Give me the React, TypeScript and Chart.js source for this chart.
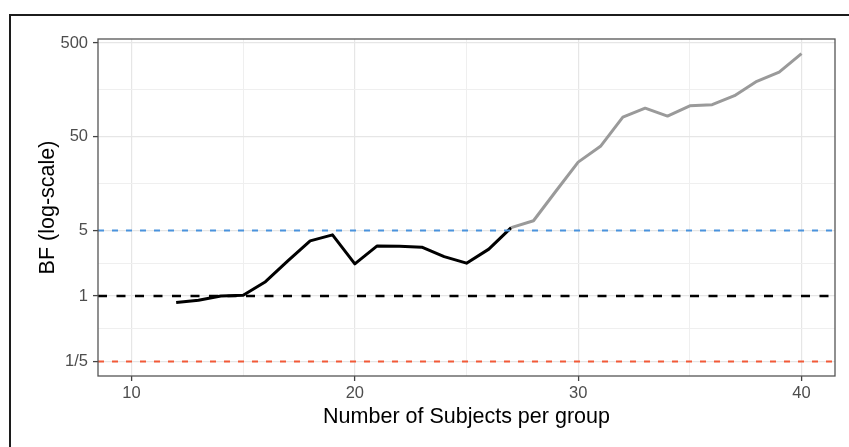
import React, { useEffect, useRef } from "react";
import { Chart, registerables } from "chart.js";

Chart.register(...registerables);

// Bayes factor sequence: the black segment is the observed run,
// the grey segment continues it to the full sample size.
const subjectsObserved = [12, 13, 14, 15, 16, 17, 18, 19, 20, 21, 22, 23, 24, 25, 26, 27];
const bfObserved = [0.85, 0.9, 1.0, 1.02, 1.42, 2.37, 3.87, 4.49, 2.2, 3.42, 3.4, 3.32, 2.63, 2.24, 3.16, 5.37];

const subjectsProjected = [27, 28, 29, 30, 31, 32, 33, 34, 35, 36, 37, 38, 39, 40];
const bfProjected = [5.37, 6.35, 13.1, 26.8, 39.5, 81, 101, 83, 107, 110, 137, 195, 245, 385];

// Evidence thresholds drawn as dashed reference lines
const thresholdValues = [5, 1, 0.2];
const thresholdColors = ["#4a93dd", "#000000", "#f25a38"];
const thresholdWidths = [2, 2.6, 2];
const thresholdDashes = [[6, 8], [9, 9.5], [6, 8]];

const yTickValues = [0.2, 1, 5, 50, 500];
const yTickLabels = ["1/5", "1", "5", "50", "500"];
const xTickValues = [10, 20, 30, 40];

const X_MIN = 8.5;
const X_MAX = 41.5;
const Y_MIN = 0.14;
const Y_MAX = 552;

const FONT = "'Liberation Sans', Arial, Helvetica, sans-serif";

// minor grid positions sit halfway between major breaks (geometric mean on log axis)
const yMinor = yTickValues.slice(1).map((v, i) => Math.sqrt(v * yTickValues[i]));
const xMinor = xTickValues.slice(1).map((v, i) => (v + xTickValues[i]) / 2);
const yAll = [...yTickValues, ...yMinor].sort((a, b) => a - b);
const xAll = [...xTickValues, ...xMinor].sort((a, b) => a - b);

const isYMajor = (v: number) => yTickValues.some((t) => Math.abs(t - v) / t < 1e-6);
const isXMajor = (v: number) => xTickValues.includes(v);

const framePlugin = {
  id: "frame",
  beforeDraw(chart: any) {
    const { ctx, width, height } = chart;
    ctx.save();
    ctx.fillStyle = "#ffffff";
    ctx.fillRect(0, 0, width, height);
    ctx.strokeStyle = "#1c1c1c";
    ctx.lineWidth = 2;
    ctx.strokeRect(10, 15, width + 20, height + 20);
    ctx.restore();
  },
  afterDatasetsDraw(chart: any) {
    const { ctx, chartArea } = chart;
    ctx.save();
    ctx.strokeStyle = "#555555";
    ctx.lineWidth = 1.3;
    ctx.strokeRect(chartArea.left, chartArea.top, chartArea.right - chartArea.left, chartArea.bottom - chartArea.top);
    ctx.restore();
  },
};

export default function App() {
  const canvasRef = useRef<HTMLCanvasElement | null>(null);

  useEffect(() => {
    if (!canvasRef.current) return;
    Chart.defaults.font.family = FONT;

    const thresholdSets = thresholdValues.map((v, i) => ({
      label: `threshold ${v}`,
      data: [
        { x: X_MIN, y: v },
        { x: X_MAX, y: v },
      ],
      borderColor: thresholdColors[i],
      borderWidth: thresholdWidths[i],
      borderDash: thresholdDashes[i],
      borderCapStyle: "butt",
      pointRadius: 0,
      fill: false,
    }));

    const chart = new Chart(canvasRef.current, {
      type: "line",
      data: {
        datasets: [
          ...thresholdSets,
          {
            label: "projected",
            data: subjectsProjected.map((x, i) => ({ x, y: bfProjected[i] })),
            borderColor: "#9a9a9a",
            borderWidth: 3,
            borderJoinStyle: "round",
            pointRadius: 0,
            fill: false,
          },
          {
            label: "observed",
            data: subjectsObserved.map((x, i) => ({ x, y: bfObserved[i] })),
            borderColor: "#000000",
            borderWidth: 3,
            borderJoinStyle: "round",
            pointRadius: 0,
            fill: false,
          },
        ],
      } as any,
      options: {
        responsive: false,
        animation: false,
        devicePixelRatio: 1,
        layout: { padding: { left: 0, top: 39, right: 14, bottom: 0 } },
        plugins: {
          legend: { display: false },
          tooltip: { enabled: false },
        },
        scales: {
          x: {
            type: "linear",
            min: X_MIN,
            max: X_MAX,
            afterBuildTicks: (scale: any) => {
              scale.ticks = xAll.map((v) => ({ value: v }));
            },
            afterFit: (scale: any) => {
              scale.height = 71;
            },
            border: { display: false },
            grid: {
              color: (c: any) => (c.tick && isXMajor(c.tick.value) ? "#e6e6e6" : "#efefef"),
              lineWidth: (c: any) => (c.tick && isXMajor(c.tick.value) ? 1.2 : 1),
              tickColor: (c: any) => (c.tick && isXMajor(c.tick.value) ? "#444444" : "rgba(0,0,0,0)"),
              tickLength: 5,
              tickWidth: 1.3,
            },
            ticks: {
              autoSkip: false,
              maxRotation: 0,
              padding: 3,
              color: "#4d4d4d",
              font: { size: 16.5 },
              callback: (v: any) => (isXMajor(Number(v)) ? String(v) : ""),
            },
            title: {
              display: true,
              text: "Number of Subjects per group",
              color: "#000000",
              font: { size: 21.5 },
              padding: { top: 0, bottom: 17 },
            },
          },
          y: {
            type: "logarithmic",
            min: Y_MIN,
            max: Y_MAX,
            afterBuildTicks: (scale: any) => {
              scale.ticks = yAll.map((v) => ({ value: v }));
            },
            afterFit: (scale: any) => {
              scale.width = 98;
            },
            border: { display: false },
            grid: {
              color: (c: any) => (c.tick && isYMajor(c.tick.value) ? "#e6e6e6" : "#efefef"),
              lineWidth: (c: any) => (c.tick && isYMajor(c.tick.value) ? 1.2 : 1),
              tickColor: (c: any) => (c.tick && isYMajor(c.tick.value) ? "#444444" : "rgba(0,0,0,0)"),
              tickLength: 5,
              tickWidth: 1.3,
            },
            ticks: {
              autoSkip: false,
              padding: 5,
              color: "#4d4d4d",
              font: { size: 16.5 },
              callback: (v: any) => {
                const idx = yTickValues.findIndex((t) => Math.abs(t - Number(v)) / t < 1e-6);
                return idx >= 0 ? yTickLabels[idx] : "";
              },
            },
            title: {
              display: true,
              text: "BF (log-scale)",
              color: "#000000",
              font: { size: 21.5 },
              padding: { top: 35, bottom: 0 },
            },
          },
        },
      } as any,
      plugins: [framePlugin],
    });

    return () => chart.destroy();
  }, []);

  return (
    <div style={{ position: "absolute", left: 0, top: 0, width: 849, height: 447 }}>
      <canvas ref={canvasRef} width={849} height={447} style={{ display: "block" }} />
    </div>
  );
}
